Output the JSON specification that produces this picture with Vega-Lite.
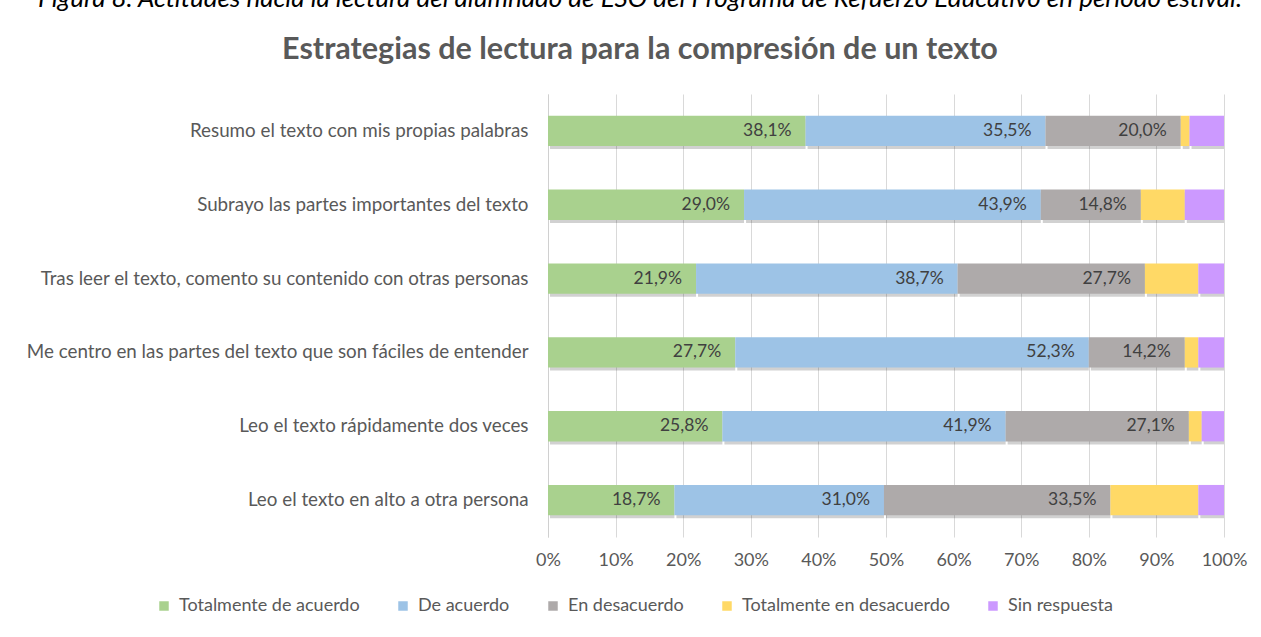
{
  "$schema": "https://vega.github.io/schema/vega-lite/v6.json",
  "width": 676,
  "height": 443,
  "autosize": {"type": "none"},
  "padding": {"left": 548, "top": 94, "right": 37, "bottom": 100},
  "background": "white",
  "title": {
    "text": "Figura 8. Actitudes hacia la lectura del alumnado de ESO del Programa de Refuerzo Educativo en período estival.",
    "subtitle": "Estrategias de lectura para la compresión de un texto",
    "anchor": "middle",
    "frame": "group",
    "dx": -246,
    "offset": 29,
    "font": "Lato",
    "fontSize": 26,
    "fontStyle": "italic",
    "fontWeight": "normal",
    "color": "#000000",
    "subtitleFont": "Lato",
    "subtitleFontSize": 30.5,
    "subtitleFontWeight": "bold",
    "subtitleColor": "#595959",
    "subtitlePadding": 23
  },
  "config": {
    "locale": {
      "number": {"decimal": ",", "thousands": ".", "grouping": [3], "currency": ["", " €"]}
    },
    "view": {"stroke": null},
    "font": "Lato"
  },
  "data": {
    "values": [
      {"item": "Resumo el texto con mis propias palabras", "cat": "Totalmente de acuerdo", "ord": 1, "value": 0.381},
      {"item": "Resumo el texto con mis propias palabras", "cat": "De acuerdo", "ord": 2, "value": 0.355},
      {"item": "Resumo el texto con mis propias palabras", "cat": "En desacuerdo", "ord": 3, "value": 0.200},
      {"item": "Resumo el texto con mis propias palabras", "cat": "Totalmente en desacuerdo", "ord": 4, "value": 0.013},
      {"item": "Resumo el texto con mis propias palabras", "cat": "Sin respuesta", "ord": 5, "value": 0.051},
      {"item": "Subrayo las partes importantes del texto", "cat": "Totalmente de acuerdo", "ord": 1, "value": 0.290},
      {"item": "Subrayo las partes importantes del texto", "cat": "De acuerdo", "ord": 2, "value": 0.439},
      {"item": "Subrayo las partes importantes del texto", "cat": "En desacuerdo", "ord": 3, "value": 0.148},
      {"item": "Subrayo las partes importantes del texto", "cat": "Totalmente en desacuerdo", "ord": 4, "value": 0.065},
      {"item": "Subrayo las partes importantes del texto", "cat": "Sin respuesta", "ord": 5, "value": 0.058},
      {"item": "Tras leer el texto, comento su contenido con otras personas", "cat": "Totalmente de acuerdo", "ord": 1, "value": 0.219},
      {"item": "Tras leer el texto, comento su contenido con otras personas", "cat": "De acuerdo", "ord": 2, "value": 0.387},
      {"item": "Tras leer el texto, comento su contenido con otras personas", "cat": "En desacuerdo", "ord": 3, "value": 0.277},
      {"item": "Tras leer el texto, comento su contenido con otras personas", "cat": "Totalmente en desacuerdo", "ord": 4, "value": 0.079},
      {"item": "Tras leer el texto, comento su contenido con otras personas", "cat": "Sin respuesta", "ord": 5, "value": 0.038},
      {"item": "Me centro en las partes del texto que son fáciles de entender", "cat": "Totalmente de acuerdo", "ord": 1, "value": 0.277},
      {"item": "Me centro en las partes del texto que son fáciles de entender", "cat": "De acuerdo", "ord": 2, "value": 0.523},
      {"item": "Me centro en las partes del texto que son fáciles de entender", "cat": "En desacuerdo", "ord": 3, "value": 0.142},
      {"item": "Me centro en las partes del texto que son fáciles de entender", "cat": "Totalmente en desacuerdo", "ord": 4, "value": 0.020},
      {"item": "Me centro en las partes del texto que son fáciles de entender", "cat": "Sin respuesta", "ord": 5, "value": 0.038},
      {"item": "Leo el texto rápidamente dos veces", "cat": "Totalmente de acuerdo", "ord": 1, "value": 0.258},
      {"item": "Leo el texto rápidamente dos veces", "cat": "De acuerdo", "ord": 2, "value": 0.419},
      {"item": "Leo el texto rápidamente dos veces", "cat": "En desacuerdo", "ord": 3, "value": 0.271},
      {"item": "Leo el texto rápidamente dos veces", "cat": "Totalmente en desacuerdo", "ord": 4, "value": 0.019},
      {"item": "Leo el texto rápidamente dos veces", "cat": "Sin respuesta", "ord": 5, "value": 0.033},
      {"item": "Leo el texto en alto a otra persona", "cat": "Totalmente de acuerdo", "ord": 1, "value": 0.187},
      {"item": "Leo el texto en alto a otra persona", "cat": "De acuerdo", "ord": 2, "value": 0.310},
      {"item": "Leo el texto en alto a otra persona", "cat": "En desacuerdo", "ord": 3, "value": 0.335},
      {"item": "Leo el texto en alto a otra persona", "cat": "Totalmente en desacuerdo", "ord": 4, "value": 0.130},
      {"item": "Leo el texto en alto a otra persona", "cat": "Sin respuesta", "ord": 5, "value": 0.038}
    ]
  },
  "transform": [
    {"stack": "value", "groupby": ["item"], "sort": [{"field": "ord", "order": "ascending"}], "as": ["v0", "v1"]}
  ],
  "encoding": {
    "y": {
      "field": "item",
      "type": "nominal",
      "sort": null,
      "title": null,
      "scale": {"paddingInner": 0.59, "paddingOuter": 0.295},
      "axis": {
        "labelFont": "Lato",
        "labelFontSize": 18.8,
        "labelColor": "#595959",
        "labelPadding": 20,
        "labelLimit": 700,
        "ticks": false,
        "domain": true,
        "domainColor": "#D0D0D0",
        "grid": false
      }
    }
  },
  "layer": [
    {
      "mark": {"type": "bar", "color": "#000000", "opacity": 0.18, "yOffset": 3, "xOffset": 2},
      "encoding": {
        "x": {"field": "v0", "type": "quantitative", "scale": {"domain": [0, 1]},
          "axis": {
            "format": ".0%",
            "values": [0, 0.1, 0.2, 0.3, 0.4, 0.5, 0.6, 0.7, 0.8, 0.9, 1],
            "grid": true,
            "gridColor": "#D9D9D9",
            "domain": false,
            "ticks": false,
            "labelFont": "Lato",
            "labelFontSize": 18,
            "labelColor": "#595959",
            "labelPadding": 14,
            "labelFlush": false,
            "labelOverlap": false,
            "title": null
          }
        },
        "x2": {"field": "v1"}
      }
    },
    {
      "mark": {"type": "bar"},
      "encoding": {
        "x": {"field": "v0", "type": "quantitative"},
        "x2": {"field": "v1"},
        "color": {
          "field": "cat",
          "type": "nominal",
          "scale": {
            "domain": ["Totalmente de acuerdo", "De acuerdo", "En desacuerdo", "Totalmente en desacuerdo", "Sin respuesta"],
            "range": ["#A9D18E", "#9DC3E6", "#AEAAAA", "#FFD966", "#CC99FF"]
          },
          "legend": {
            "orient": "none",
            "legendX": -393,
            "legendY": 503,
            "direction": "horizontal",
            "columns": 5,
            "title": null,
            "symbolType": "square",
            "symbolSize": 90,
            "symbolStrokeWidth": 0,
            "labelFont": "Lato",
            "labelFontSize": 18,
            "labelColor": "#595959",
            "labelLimit": 400,
            "labelOffset": 6,
            "columnPadding": 34
          }
        }
      }
    },
    {
      "transform": [{"filter": "datum.ord <= 3"}],
      "mark": {"type": "text", "align": "right", "baseline": "middle", "dx": -14, "fontSize": 17.5, "font": "Lato", "color": "#404040"},
      "encoding": {
        "x": {"field": "v1", "type": "quantitative"},
        "text": {"field": "value", "type": "quantitative", "format": ".1%"}
      }
    }
  ]
}
